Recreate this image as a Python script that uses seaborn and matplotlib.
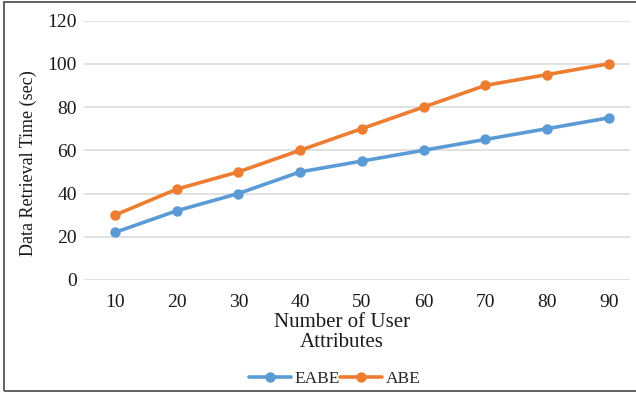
import matplotlib
matplotlib.use("Agg")
import matplotlib.pyplot as plt
import seaborn as sns
import pandas as pd
from matplotlib.patches import Rectangle
from matplotlib.lines import Line2D

categories = ["10", "20", "30", "40", "50", "60", "70", "80", "90"]
eabe = [22, 32, 40, 50, 55, 60, 65, 70, 75]
abe = [30, 42, 50, 60, 70, 80, 90, 95, 100]
series_names = ["EABE", "ABE"]
colors = ["#5B9BD5", "#ED7D31"]
yticks = [0, 20, 40, 60, 80, 100, 120]

df = pd.DataFrame({
    "cat": categories * 2,
    "val": eabe + abe,
    "series": [series_names[0]] * len(categories) + [series_names[1]] * len(categories),
})

sns.set_theme(style="white")
plt.rcParams["font.family"] = ["Liberation Serif", "DejaVu Serif"]

W, H = 636, 393
fig = plt.figure(figsize=(W / 100, H / 100), dpi=100)
ax = fig.add_axes([84 / W, 1 - 280 / H, (630 - 84) / W, (280 - 20.5) / H])

sns.lineplot(data=df, x="cat", y="val", hue="series", palette=colors,
             marker="o", markersize=7.5, markeredgewidth=0, linewidth=2.6,
             sort=False, ax=ax, legend=False)

ax.set_ylim(0, 120)
ax.set_xlim(-0.5, 8.34)
ax.set_yticks(yticks)
ax.set_yticklabels([str(t) for t in yticks])
ax.grid(axis="y", color="#D9D9D9", linewidth=1.1)
ax.grid(axis="x", visible=False)
ax.set_axisbelow(True)
for s in ax.spines.values():
    s.set_visible(False)
ax.tick_params(axis="both", length=0, labelsize=14, colors="#1a1a1a")
ax.tick_params(axis="x", pad=10)
ax.tick_params(axis="y", pad=5)

ax.set_xlabel("Number of User\nAttributes", fontsize=15, color="#1a1a1a", linespacing=1.05)
ax.xaxis.set_label_coords((342 - 84) / (630 - 84), (280 - 313) / (280 - 20.5))
ax.set_ylabel("Data Retrieval Time (sec)", fontsize=13, color="#1a1a1a")
ax.yaxis.set_label_coords((37 - 84) / (630 - 84), (280 - 163) / (280 - 20.5))

handles = [Line2D([], [], color=c, marker="o", markersize=7.5, markeredgewidth=0, linewidth=2.6)
           for c in colors]
fig.legend(handles, series_names, loc="center", bbox_to_anchor=(335 / W, 1 - 379 / H),
           ncol=2, frameon=False, fontsize=12.5, handlelength=2.4, handletextpad=0.25,
           columnspacing=0.0, borderpad=0)

fig.patches.append(Rectangle((4 / W, 2 / H), (W + 10) / W, (H - 4) / H,
                             transform=fig.transFigure, fill=False,
                             edgecolor="#555555", linewidth=1.3))

fig.savefig("out.png", dpi=100)
